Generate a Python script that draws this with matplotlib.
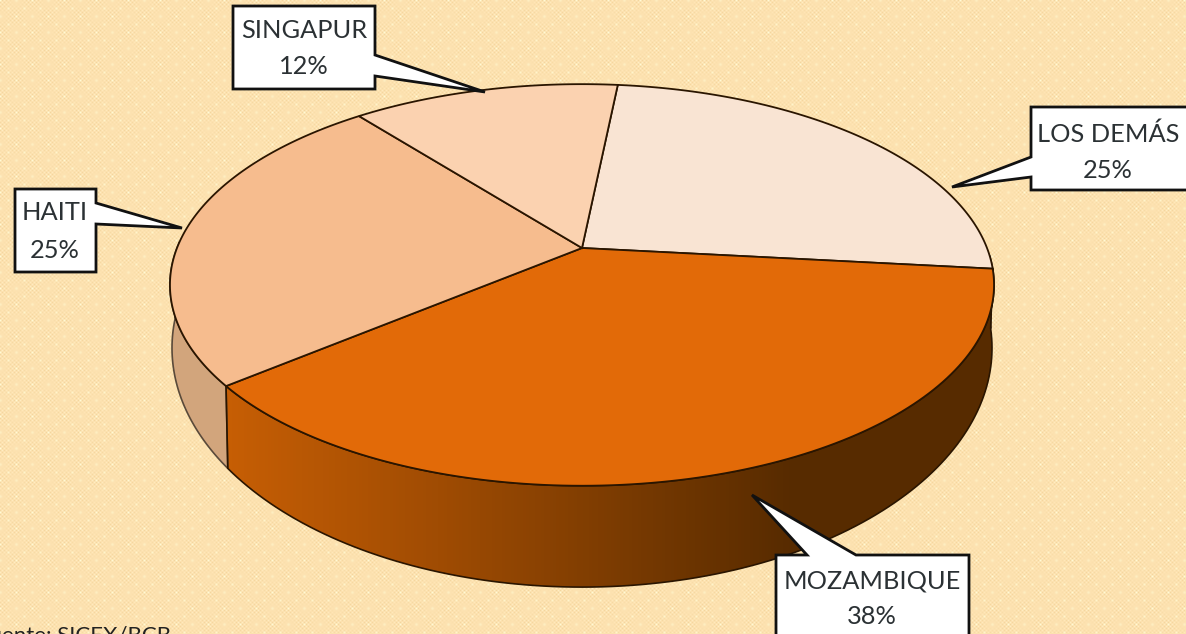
#!/usr/bin/python
import numpy as np
import matplotlib
matplotlib.use('Agg')
import matplotlib.pyplot as plt
from matplotlib.patches import Polygon, PathPatch
from matplotlib.path import Path
from matplotlib.colors import LinearSegmentedColormap

labels = ['LOS DEMÁS', 'MOZAMBIQUE', 'HAITI', 'SINGAPUR']
shares = [25, 37.5, 25, 12.5]
top_colors = ['#f9e4d3', '#e26a08', '#f6bc8e', '#fbd2b0']
side_colors = ['#c9b3a2', '#c85f05', '#d2a57c', '#d0a987']

W, H = 1186, 634
plt.rcParams['font.family'] = ['Lato', 'DejaVu Sans']

fig = plt.figure(figsize=(W / 100, H / 100), dpi=100)
ax = fig.add_axes([0, 0, 1, 1])
ax.set_xlim(0, W)
ax.set_ylim(H, 0)
ax.axis('off')

# woven background
yy, xx = np.mgrid[0:H, 0:W]
grid = np.cos(2 * np.pi * xx / 4) * np.cos(2 * np.pi * yy / 4)
patch = 0.5 + 0.5 * np.cos(2 * np.pi * xx / 32) * np.cos(2 * np.pi * yy / 32)
spot = np.clip(np.cos(2 * np.pi * xx / 16) * np.cos(2 * np.pi * yy / 16), 0, 1) ** 6
base = np.array([0.990, 0.885, 0.690])
bg = base + (grid * patch * 0.040)[..., None] * np.array([1, 1.3, 2.0])
bg = bg + spot[..., None] * np.array([0.005, 0.05, 0.07])
ax.imshow(np.clip(bg, 0, 1), extent=(0, W, H, 0), aspect='auto', zorder=0)


def rim(angle, cy, r, b, k=0.184, cx=582):
    # angle in degrees clockwise from 12 o'clock, perspective circle
    a = np.radians(angle)
    x, y = np.sin(a), np.cos(a)
    return np.column_stack([cx + r * x / (1 + k * y), cy - b * y / (1 + k * y)])


def top(angle):
    return rim(angle, 248, 405, 194)


def bottom(angle):
    return rim(angle, 304, 403, 231)


edges = 6 + np.cumsum([0] + shares) * 3.6
spans = [np.linspace(edges[i], edges[i + 1], 120) for i in range(len(shares))]

# side wall, only the part that faces the viewer
dark = '#572b00'
for i, sp in enumerate(spans):
    sp = sp[(sp >= 92) & (sp <= 272)]
    if len(sp) < 2:
        continue
    pts = np.vstack([top(sp), bottom(sp[::-1])])
    if labels[i] == 'MOZAMBIQUE':
        clip = PathPatch(Path(np.vstack([pts, pts[:1]])), fc='none', ec='none', transform=ax.transData)
        ax.add_patch(clip)
        cmap = LinearSegmentedColormap.from_list('wall', [(0, side_colors[i]), (0.28, '#a04c03'), (0.74, dark), (1, dark)])
        im = ax.imshow(np.linspace(0, 1, 256)[None, :], cmap=cmap, extent=(220, 995, 600, 250),
                       aspect='auto', zorder=2)
        im.set_clip_path(clip)
        ax.add_patch(Polygon(pts, closed=True, fc='none', ec='#2a1500', lw=1.2, zorder=3))
    else:
        ax.add_patch(Polygon(pts, closed=True, fc=side_colors[i], ec='#5a4a3a', lw=1.2, zorder=2))

# top face
for i, sp in enumerate(spans):
    pts = np.vstack([[[582, 248]], top(sp)])
    ax.add_patch(Polygon(pts, closed=True, fc=top_colors[i], ec='#2a1500', lw=1.3, zorder=4))

# callouts
boxes = {
    'LOS DEMÁS': ((1031, 107, 1200, 190), [(1031, 157), (952, 187), (1031, 177)], (1108, 134), (1108, 170)),
    'MOZAMBIQUE': ((776, 555, 969, 650), [(807, 555), (752, 495), (856, 555)], (872, 581), (872, 617)),
    'HAITI': ((15, 189, 96, 272), [(96, 203), (182, 228), (96, 224)], (55, 213), (55, 251)),
    'SINGAPUR': ((233, 6, 375, 89), [(375, 55), (485, 92), (375, 76)], (304, 30), (304, 67)),
}
for name, share in zip(labels, shares):
    (x0, y0, x1, y1), ptr, p1, p2 = boxes[name]
    # outline runs round box and pointer together
    if name == 'LOS DEMÁS':
        outline = [(x0, y0), (x1, y0), (x1, y1), (x0, y1), ptr[2], ptr[1], ptr[0]]
    elif name == 'MOZAMBIQUE':
        outline = [(x0, y0), ptr[0], ptr[1], ptr[2], (x1, y0), (x1, y1), (x0, y1)]
    else:
        outline = [(x0, y0), (x1, y0), ptr[0], ptr[1], ptr[2], (x1, y1), (x0, y1)]
    ax.add_patch(Polygon(outline, closed=True, fc='white', ec='#111111', lw=2.0, zorder=6, joinstyle='miter'))
    ax.text(p1[0], p1[1], name, ha='center', va='center', fontsize=18.3, color='#2b3134', zorder=7)
    ax.text(p2[0], p2[1], '%.0f%%' % share, ha='center', va='center', fontsize=18.3, color='#2b3134', zorder=7)

ax.text(-23, 636, 'Fuente: SICEX/BCB', ha='left', va='center', fontsize=16, color='#222222', zorder=7)

fig.savefig('out.png', dpi=100)
